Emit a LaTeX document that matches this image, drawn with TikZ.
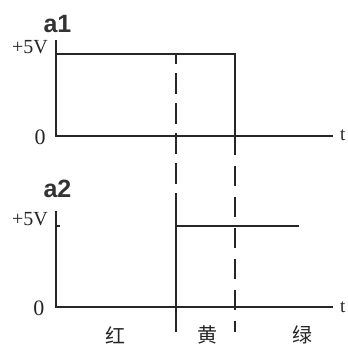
\documentclass[tikz,border=0pt]{standalone}
\usepackage{fontspec}
\setmainfont{Liberation Serif}
\newfontfamily\labsans{Liberation Sans}
\newfontfamily\cjk{Noto Sans CJK SC}
\begin{document}
\begin{tikzpicture}[x=1pt,y=-1pt,
  wire/.style={line width=1.1pt,black!85},
  dashwire/.style={wire,dash pattern=on 21pt off 9pt},
  axlab/.style={font=\fontsize{20}{20}\selectfont,inner sep=0pt,text=black!85},
  signame/.style={font=\labsans\bfseries\fontsize{25}{25}\selectfont,inner sep=0pt,text=black!80},
  zlab/.style={font=\fontsize{22}{22}\selectfont,inner sep=0pt,text=black!85},
  tlab/.style={font=\fontsize{19}{19}\selectfont,inner sep=0pt,text=black!85},
  hanzi/.style={font=\cjk\fontsize{20}{20}\selectfont,inner sep=0pt,text=black!85}]
\useasboundingbox (0,0) rectangle (348,349);
% coordinates
\coordinate (A1top) at (56,40);
\coordinate (A1org) at (56,136);
\coordinate (A1end) at (333,136);
\coordinate (H1a) at (56,54);
\coordinate (H1b) at (235,54);
\coordinate (F1) at (235,155);
\coordinate (D1a) at (176,55);
\coordinate (D1b) at (176,198);
\coordinate (S2b) at (176,332);
\coordinate (D2a) at (235,166);
\coordinate (D2b) at (235,332);
\coordinate (A2top) at (56,211);
\coordinate (A2org) at (56,307);
\coordinate (A2end) at (333,307);
\coordinate (T2a) at (56,226);
\coordinate (T2b) at (60,226);
\coordinate (H2a) at (176,226);
\coordinate (H2b) at (299,226);
% top plot
\draw[wire] (A1top) -- (A1org) -- (A1end);
\draw[wire] (H1a) -- (H1b) -- (F1);
\draw[dashwire,dash phase=12pt] (D1a) -- (D1b);
\draw[wire] (D1b) -- (S2b);
\draw[dashwire,dash pattern=on 20pt off 11pt] (D2a) -- (D2b);
% bottom plot
\draw[wire] (A2top) -- (A2org) -- (A2end);
\draw[wire] (T2a) -- (T2b);
\draw[wire] (H2a) -- (H2b);
% labels
\node[signame,anchor=base] (a1) at (57.5,32) {a1};
\node[signame,anchor=base] (a2) at (57.5,197) {a2};
\node[axlab,anchor=base west] (v1) at (12,53) {+5V};
\node[axlab,anchor=base west] (v2) at (12,225) {+5V};
\node[zlab] (z1) at (40,137.5) {0};
\node[zlab] (z2) at (39,308) {0};
\node[tlab,anchor=base west] (t1) at (340,140) {t};
\node[tlab,anchor=base west] (t2) at (340,312) {t};
\node[hanzi] (r) at (115,335) {红};
\node[hanzi] (y) at (207,335) {黄};
\node[hanzi] (g) at (302,335) {绿};
\end{tikzpicture}
\end{document}
